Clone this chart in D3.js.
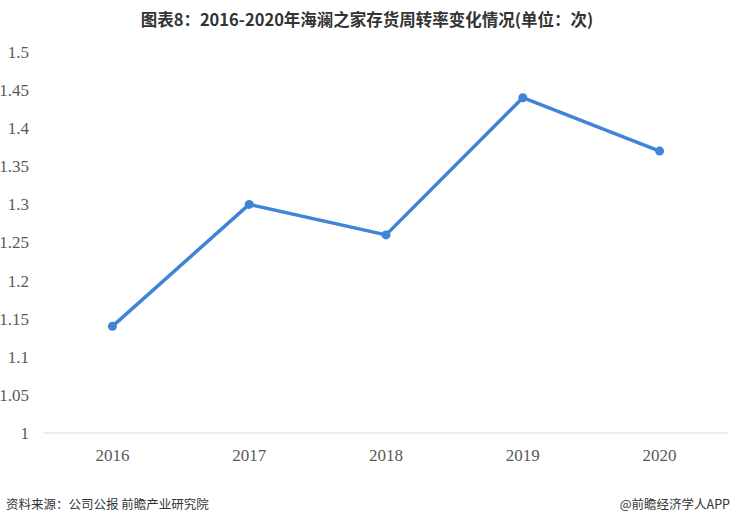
<!DOCTYPE html>
<html><head><meta charset="utf-8">
<script src="https://cdn.jsdelivr.net/npm/d3@7"></script>
<style>body{margin:0;background:#fff;} svg{display:block;}</style>
</head><body>
<svg id="c" width="734" height="527"></svg>
<script>
const years = ["2016","2017","2018","2019","2020"];
const turnover = [1.14, 1.30, 1.26, 1.44, 1.37];
const yTicks = [1, 1.05, 1.1, 1.15, 1.2, 1.25, 1.3, 1.35, 1.4, 1.45, 1.5];
const titleText = "图表8：2016-2020年海澜之家存货周转率变化情况(单位：次)";
const sourceText = "资料来源：公司公报 前瞻产业研究院";
const creditText = "@前瞻经济学人APP";

const svg = d3.select("#c");
const x = d3.scaleBand().domain(years).range([44, 728]);
const y = d3.scaleLinear().domain([1, 1.5]).range([433, 52]);

svg.append("text").attr("x", 367).attr("y", 26).attr("text-anchor","middle")
  .attr("font-family","'Noto Sans CJK SC', sans-serif").attr("font-weight","bold")
  .attr("font-size",16.5).attr("fill","#333").text(titleText);

// y axis labels
svg.append("g").selectAll("text").data(yTicks).join("text")
  .attr("x", 29).attr("y", d => y(d)).attr("dy","0.35em").attr("text-anchor","end")
  .attr("font-family","'Liberation Serif', serif").attr("font-size",17).attr("fill","#595959")
  .text(d => d3.format("")(+d.toFixed(2)));

// baseline
svg.append("line").attr("x1", 44).attr("x2", 728).attr("y1", y(1)).attr("y2", y(1))
  .attr("stroke","#d9d9d9").attr("stroke-width",1);

// x labels
svg.append("g").selectAll("text").data(years).join("text")
  .attr("x", d => x(d) + x.bandwidth()/2).attr("y", 455).attr("dy","0.35em").attr("text-anchor","middle")
  .attr("font-family","'Liberation Serif', serif").attr("font-size",17).attr("fill","#595959")
  .text(d => d);

const line = d3.line().x((d,i) => x(years[i]) + x.bandwidth()/2).y(d => y(d));
svg.append("path").datum(turnover).attr("d", line).attr("fill","none")
  .attr("stroke","#4183d7").attr("stroke-width",3.5).attr("stroke-linejoin","round");
svg.append("g").selectAll("circle").data(turnover).join("circle")
  .attr("cx",(d,i) => x(years[i]) + x.bandwidth()/2).attr("cy", d => y(d)).attr("r",4.5)
  .attr("fill","#4183d7");

svg.append("text").attr("x", 6).attr("y", 509)
  .attr("font-family","'Noto Sans CJK SC', sans-serif").attr("font-size",12.5).attr("fill","#333")
  .text(sourceText);
svg.append("text").attr("x", 730).attr("y", 509).attr("text-anchor","end")
  .attr("font-family","'Noto Sans CJK SC', sans-serif").attr("font-size",12.5).attr("fill","#333")
  .text(creditText);
</script>
</body></html>
